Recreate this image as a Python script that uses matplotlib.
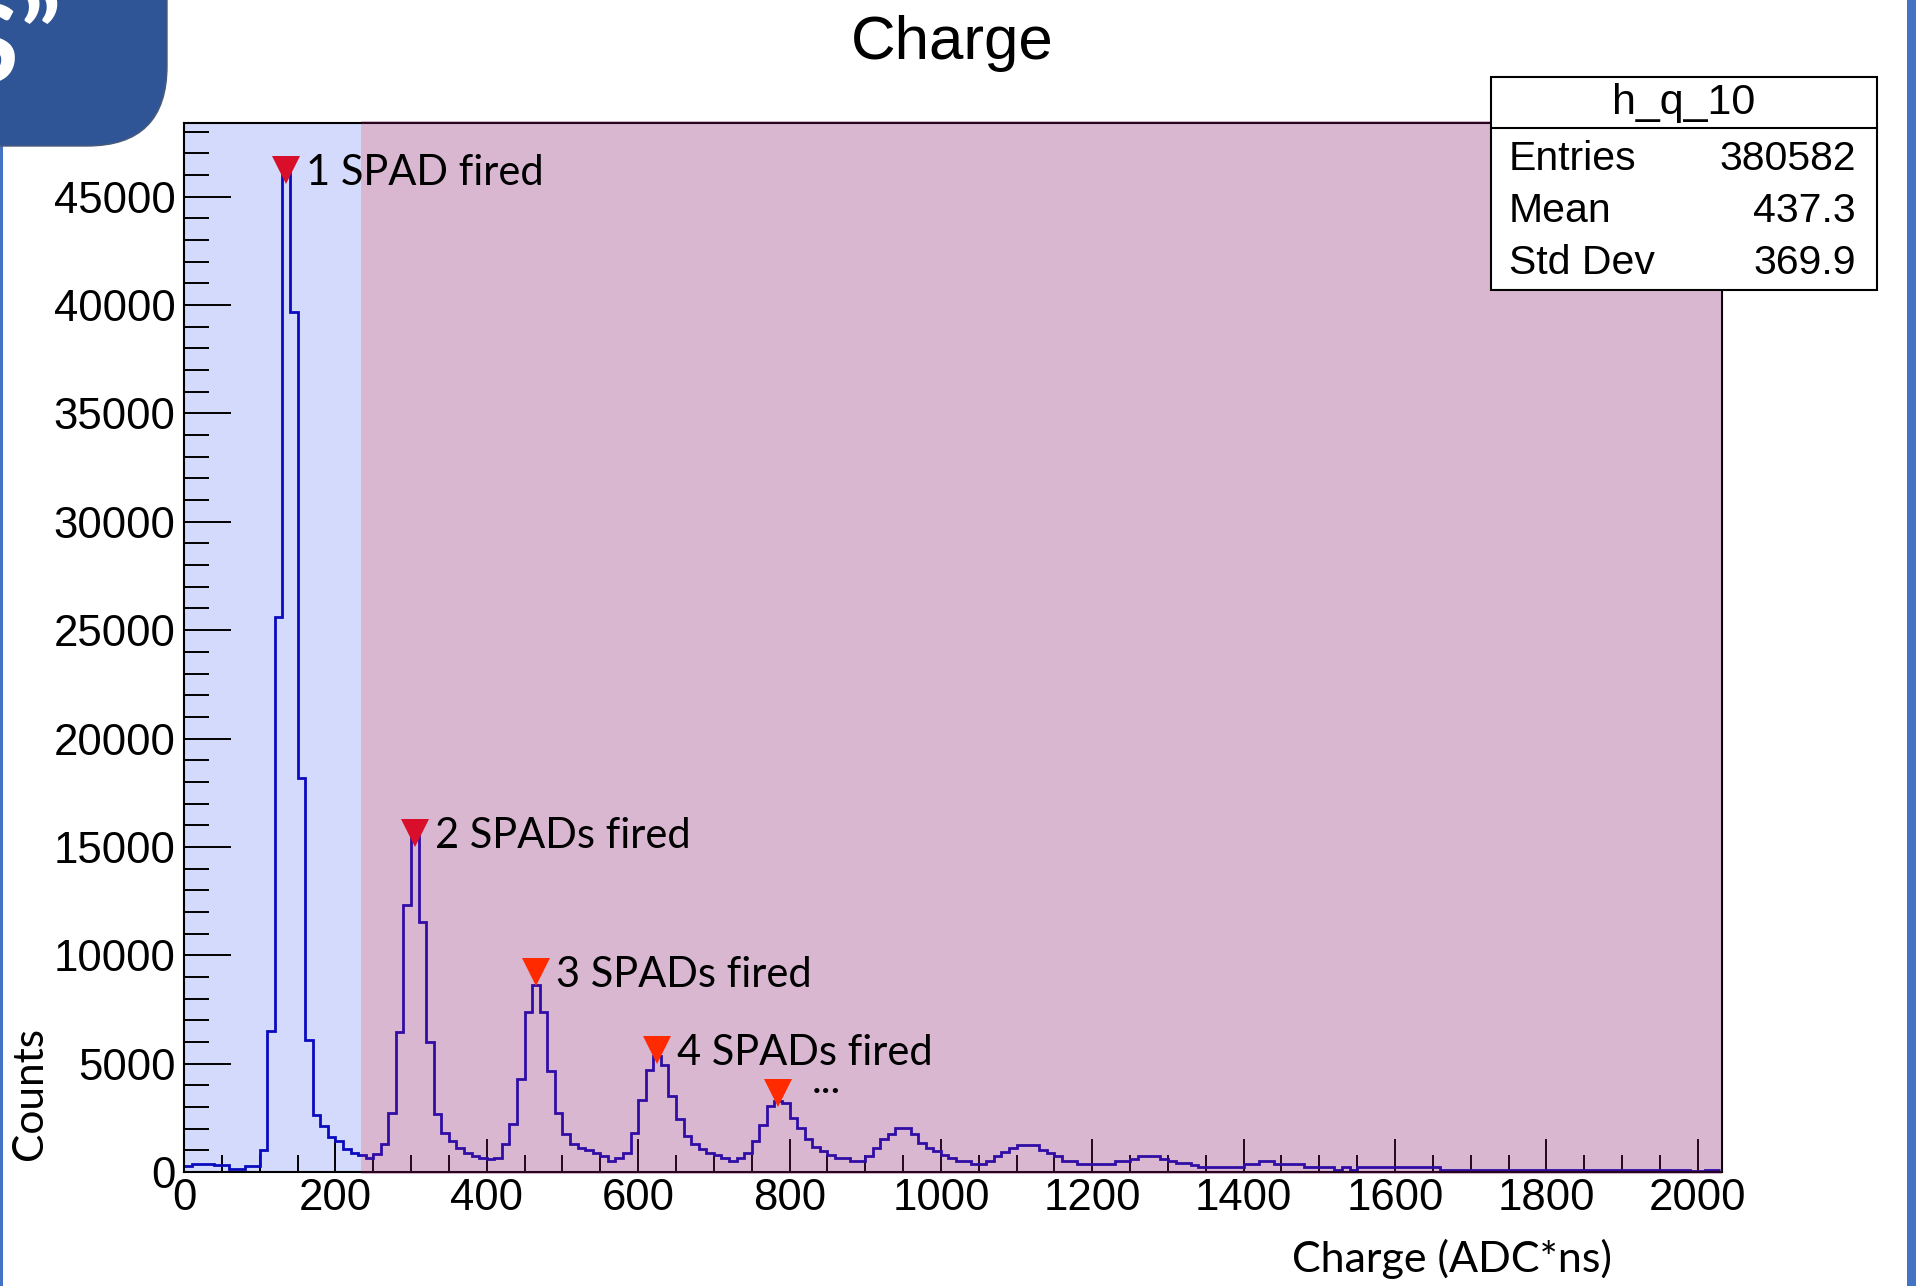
import numpy as np
import matplotlib
matplotlib.use('Agg')
import matplotlib.pyplot as plt
from matplotlib.patches import Rectangle, FancyBboxPatch
from matplotlib.lines import Line2D
from matplotlib.transforms import IdentityTransform, offset_copy, blended_transform_factory

W, H = 1916, 1286

# h_q_10 : charge spectrum, 10 ADC*ns per bin starting at 0
bin_width = 10
counts = [
    270, 385, 385, 385, 300, 300, 150, 150, 280, 280,                 # 0 - 100
    1000, 6500, 25600, 46100, 39700, 18200, 6100, 2630, 2120, 1630,   # 100 - 200
    1420, 1080, 860, 770, 640, 850, 1280, 2700, 6470, 12300,          # 200 - 300
    15600, 11550, 5980, 2660, 1790, 1430, 1120, 890, 740, 640,        # 300 - 400
    620, 630, 1280, 2200, 4310, 7360, 8640, 7360, 4670, 2740,         # 400 - 500
    1740, 1280, 1120, 1000, 890, 740, 510, 660, 890, 1820,            # 500 - 600
    3330, 4710, 5360, 4930, 3510, 2460, 1660, 1280, 1050, 890,        # 600 - 700
    770, 660, 510, 660, 890, 1430, 2160, 3050, 3280, 3170,            # 700 - 800
    2510, 2020, 1540, 1160, 970, 770, 660, 660, 510, 510,             # 800 - 900
    740, 1120, 1540, 1770, 2020, 2020, 1770, 1360, 1120, 970,         # 900 - 1000
    770, 660, 510, 510, 360, 360, 510, 740, 910, 1110,                # 1000 - 1100
    1260, 1260, 1260, 1000, 880, 760, 520, 520, 370, 370,             # 1100 - 1200
    370, 370, 370, 520, 520, 600, 760, 760, 760, 620,                 # 1200 - 1300
    520, 420, 420, 340, 230, 230, 230, 230, 230, 230,                 # 1300 - 1400
    380, 380, 520, 520, 380, 380, 380, 380, 230, 230,                 # 1400 - 1500
    230, 230, 110, 230, 110, 230, 230, 230, 230, 230,                 # 1500 - 1600
    230, 230, 230, 230, 230, 230, 70, 70, 70, 70,                     # 1600 - 1700
    70, 70, 70, 70, 70, 70, 70, 70, 70, 70,                           # 1700 - 1800
    70, 70, 70, 70, 70, 70, 70, 70, 70, 70,                           # 1800 - 1900
    70, 70, 70, 70, 70, 70, 70, 70, 70, 30,                           # 1900 - 2000
    30, 70, 70,                                                       # 2000 - 2030
]
edges = np.arange(len(counts) + 1) * bin_width

# peaks found on the spectrum (position, height)
peak_x = [135, 305, 465, 625, 785]
peak_y = [45600, 15000, 8600, 5000, 3000]
peak_labels = ['1 SPAD fired', '2 SPADs fired', '3 SPADs fired', '4 SPADs fired', '...']
peak_colors = ['#d90e2a', '#d90e2a', '#ff2a00', '#ff2a00', '#ff2a00']

stats_name = 'h_q_10'
stats_rows = [('Entries', '380582'), ('Mean', '437.3'), ('Std Dev', '369.9')]

single_cut = 234      # end of the single-SPAD band
x_max = 2032
y_max = 48400

ROOT_FONT = 'Liberation Sans'
PPT_FONT = 'Lato'


def fx(x):
    return x / W


def fy(y):
    return 1 - y / H


fig = plt.figure(figsize=(W / 100, H / 100), dpi=100)
fig.patch.set_facecolor('white')

ax = fig.add_axes([fx(184), fy(1172), (1722 - 184) / W, (1172 - 123) / H])
ax.set_xlim(0, x_max)
ax.set_ylim(0, y_max)

# single SPAD band underneath, the rest gets a translucent overlay on top
ax.axvspan(0, single_cut, color='#d3dafb', lw=0, zorder=0)
ax.stairs(counts, edges, color='#0b0bbe', lw=2, baseline=None, zorder=2)
bt = blended_transform_factory(ax.transData, ax.transAxes)
ax.add_patch(Rectangle((single_cut, -0.002), x_max - single_cut, 1.004, transform=bt,
                       facecolor=(0.53, 0.073, 0.41), alpha=0.3, lw=0, zorder=3,
                       clip_on=False))

for s in ax.spines.values():
    s.set_linewidth(1.5)
    s.set_color('black')

ax.set_xticks(np.arange(0, 2001, 200))
ax.set_xticks(np.arange(0, x_max, 50), minor=True)
ax.set_yticks(np.arange(0, 45001, 5000))
ax.set_yticks(np.arange(0, y_max, 1000), minor=True)
ax.tick_params(axis='both', which='both', direction='in', width=1.4, colors='black',
               top=False, right=False)
ax.tick_params(axis='x', which='major', length=24, pad=4)
ax.tick_params(axis='x', which='minor', length=12)
ax.tick_params(axis='y', which='major', length=34, pad=6)
ax.tick_params(axis='y', which='minor', length=18)
for lab in ax.get_xticklabels() + ax.get_yticklabels():
    lab.set_fontfamily(ROOT_FONT)
    lab.set_fontsize(31.5)

# peak markers (tip on the peak) with their labels
ms = 19.5
for xp, yp, text, col in zip(peak_x, peak_y, peak_labels, peak_colors):
    tr = offset_copy(ax.transData, fig=fig, x=0, y=ms / 2, units='points')
    ax.plot([xp], [yp], marker='v', ms=ms, color=col, mew=0, transform=tr,
            zorder=5, clip_on=False)
    if text == '...':
        off = (24, ms / 2)
    else:
        off = (14.4, ms / 2 - 10.8)
    ax.annotate(text, xy=(xp, yp), xytext=off, textcoords='offset points',
                ha='left', va='baseline', fontsize=30, family=PPT_FONT,
                color='black', zorder=6)

# titles and axis labels
fig.text(fx(952), fy(59), 'Charge', ha='center', va='baseline',
         fontsize=44.5, family=ROOT_FONT)
fig.text(fx(1452), fy(1259), 'Charge (ADC*ns)', ha='center', va='center',
         fontsize=31, family=PPT_FONT)
fig.text(fx(30), fy(1093), 'Counts', ha='center', va='center', rotation=90,
         fontsize=30.5, family=PPT_FONT)

# stats box
bx0, bx1, by0, by1 = 1491, 1877, 77, 290
fig.add_artist(Rectangle((fx(bx0), fy(by1)), (bx1 - bx0) / W, (by1 - by0) / H,
                         transform=fig.transFigure, facecolor='white',
                         edgecolor='black', lw=1.5, zorder=10))
fig.add_artist(Line2D([fx(bx0), fx(bx1)], [fy(128), fy(128)],
                      transform=fig.transFigure, color='black', lw=1.5, zorder=11))
fig.text(fx((bx0 + bx1) / 2), fy(103), stats_name, ha='center', va='center',
         fontsize=31, family=ROOT_FONT, zorder=12)
for i, (name, val) in enumerate(stats_rows):
    yy = fy(159 + 52 * i)
    fig.text(fx(1509), yy, name, ha='left', va='center', fontsize=29.5,
             family=ROOT_FONT, zorder=12)
    fig.text(fx(1856), yy, val, ha='right', va='center', fontsize=29.5,
             family=ROOT_FONT, zorder=12)

# slide frame pieces
pix = IdentityTransform()
fig.add_artist(Rectangle((0, 0), 3, H - 146, transform=pix, facecolor='#4472c4',
                         lw=0, zorder=1))
fig.add_artist(Rectangle((1907, 0), 9, H, transform=pix, facecolor='#4472c4',
                         lw=0, zorder=1))
fig.add_artist(FancyBboxPatch((-300, H - 146), 467, 500,
                              boxstyle='round,pad=0,rounding_size=80', transform=pix,
                              facecolor='#2f5597', edgecolor='#4a5a78', lw=1, zorder=1))
fig.text(fx(18), fy(82), 'S', ha='right', va='baseline', fontsize=77,
         weight='bold', color='white', family=PPT_FONT, zorder=2)
fig.text(fx(19), fy(73), '\u201d', ha='left', va='baseline', fontsize=77,
         weight='bold', color='white', family=PPT_FONT, zorder=2)

fig.savefig('out.png', dpi=100)
